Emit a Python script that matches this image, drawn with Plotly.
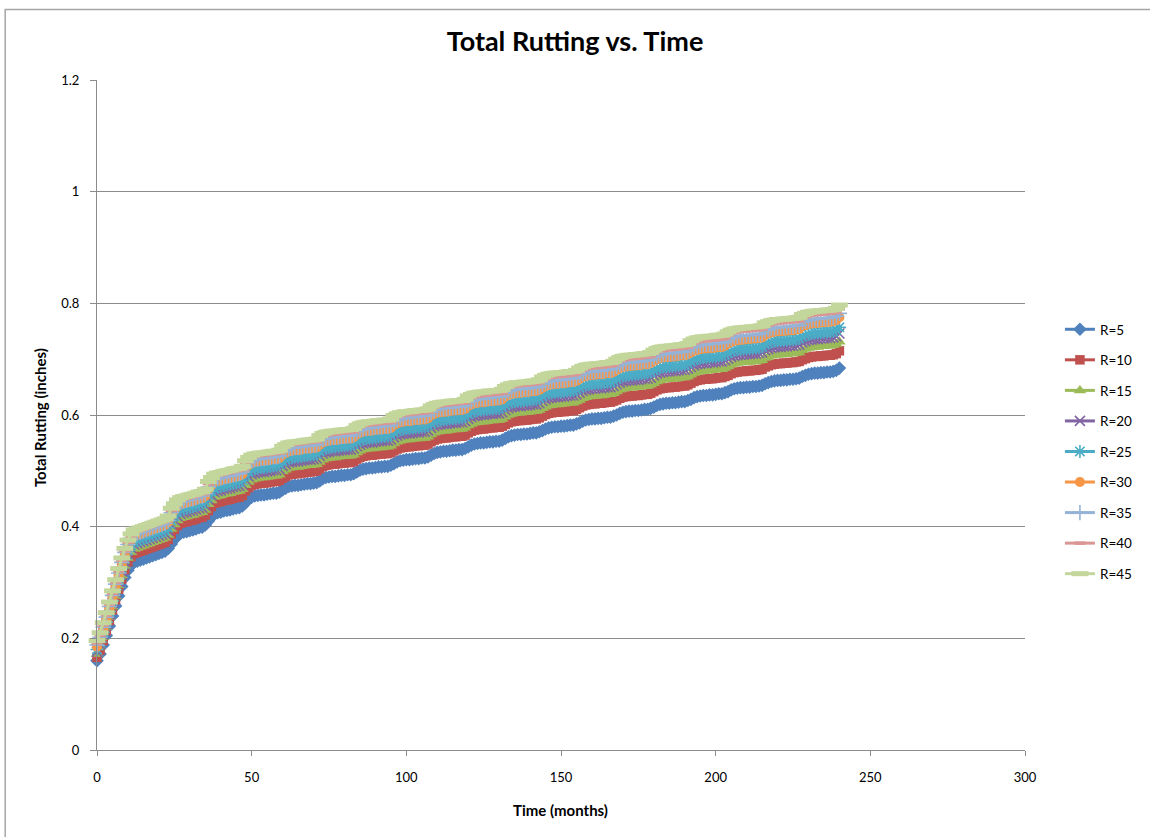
import plotly.graph_objects as go

# Time axis: months since construction
MONTHS = list(range(0, 241))

# Total rutting (inches) for each R value, one row per year (months 12k .. 12k+11)
RUT_R5 = [
    0.160, 0.172, 0.188, 0.205, 0.222, 0.240, 0.258, 0.276, 0.293, 0.309, 0.322, 0.331,
    0.336, 0.338, 0.340, 0.342, 0.344, 0.346, 0.348, 0.350, 0.352, 0.354, 0.356, 0.361,
    0.369, 0.377, 0.384, 0.388, 0.390, 0.391, 0.393, 0.394, 0.396, 0.398, 0.399, 0.403,
    0.410, 0.417, 0.423, 0.425, 0.426, 0.428, 0.429, 0.430, 0.432, 0.433, 0.434, 0.437,
    0.443, 0.449, 0.453, 0.455, 0.456, 0.457, 0.457, 0.458, 0.459, 0.460, 0.460, 0.462,
    0.466, 0.469, 0.472, 0.473, 0.474, 0.474, 0.475, 0.476, 0.477, 0.477, 0.478, 0.479,
    0.482, 0.486, 0.488, 0.489, 0.490, 0.490, 0.491, 0.492, 0.492, 0.493, 0.493, 0.495,
    0.498, 0.501, 0.503, 0.504, 0.505, 0.505, 0.506, 0.507, 0.507, 0.508, 0.508, 0.510,
    0.513, 0.516, 0.518, 0.519, 0.520, 0.520, 0.521, 0.522, 0.522, 0.523, 0.523, 0.525,
    0.528, 0.531, 0.533, 0.534, 0.535, 0.535, 0.536, 0.537, 0.537, 0.538, 0.538, 0.540,
    0.543, 0.546, 0.548, 0.549, 0.550, 0.550, 0.551, 0.552, 0.552, 0.553, 0.553, 0.555,
    0.558, 0.561, 0.563, 0.564, 0.565, 0.565, 0.566, 0.566, 0.567, 0.568, 0.568, 0.570,
    0.572, 0.575, 0.577, 0.578, 0.579, 0.579, 0.580, 0.580, 0.581, 0.582, 0.582, 0.584,
    0.586, 0.589, 0.591, 0.592, 0.593, 0.593, 0.594, 0.594, 0.595, 0.596, 0.596, 0.598,
    0.600, 0.603, 0.605, 0.606, 0.607, 0.607, 0.608, 0.608, 0.609, 0.610, 0.610, 0.612,
    0.614, 0.617, 0.619, 0.620, 0.621, 0.621, 0.622, 0.622, 0.623, 0.624, 0.624, 0.626,
    0.628, 0.631, 0.633, 0.634, 0.635, 0.635, 0.636, 0.636, 0.637, 0.638, 0.638, 0.640,
    0.642, 0.645, 0.647, 0.648, 0.649, 0.649, 0.650, 0.650, 0.651, 0.651, 0.652, 0.653,
    0.656, 0.658, 0.660, 0.661, 0.662, 0.662, 0.663, 0.663, 0.664, 0.664, 0.665, 0.666,
    0.669, 0.671, 0.673, 0.674, 0.675, 0.675, 0.676, 0.676, 0.677, 0.677, 0.678, 0.680,
    0.684,
]

RUT_R10 = [
    0.166, 0.179, 0.196, 0.214, 0.232, 0.251, 0.269, 0.288, 0.306, 0.323, 0.337, 0.346,
    0.352, 0.354, 0.356, 0.358, 0.360, 0.362, 0.364, 0.366, 0.368, 0.370, 0.372, 0.377,
    0.387, 0.395, 0.402, 0.406, 0.408, 0.409, 0.411, 0.412, 0.414, 0.416, 0.417, 0.421,
    0.429, 0.436, 0.442, 0.444, 0.445, 0.447, 0.448, 0.449, 0.451, 0.452, 0.453, 0.456,
    0.464, 0.470, 0.474, 0.476, 0.477, 0.478, 0.478, 0.479, 0.480, 0.481, 0.481, 0.483,
    0.487, 0.490, 0.493, 0.494, 0.495, 0.495, 0.496, 0.497, 0.498, 0.498, 0.499, 0.500,
    0.504, 0.508, 0.510, 0.511, 0.512, 0.512, 0.513, 0.514, 0.514, 0.515, 0.515, 0.517,
    0.521, 0.524, 0.526, 0.527, 0.528, 0.528, 0.529, 0.530, 0.530, 0.531, 0.531, 0.533,
    0.536, 0.539, 0.541, 0.542, 0.543, 0.543, 0.544, 0.545, 0.545, 0.546, 0.546, 0.548,
    0.552, 0.555, 0.557, 0.558, 0.559, 0.559, 0.560, 0.561, 0.561, 0.562, 0.562, 0.564,
    0.568, 0.571, 0.573, 0.574, 0.575, 0.575, 0.576, 0.577, 0.577, 0.578, 0.578, 0.580,
    0.583, 0.586, 0.588, 0.589, 0.590, 0.590, 0.591, 0.591, 0.592, 0.593, 0.593, 0.595,
    0.598, 0.601, 0.603, 0.604, 0.605, 0.605, 0.606, 0.606, 0.607, 0.608, 0.608, 0.610,
    0.613, 0.616, 0.618, 0.619, 0.620, 0.620, 0.621, 0.621, 0.622, 0.623, 0.623, 0.625,
    0.627, 0.630, 0.632, 0.633, 0.634, 0.634, 0.635, 0.635, 0.636, 0.637, 0.637, 0.639,
    0.642, 0.645, 0.647, 0.648, 0.649, 0.649, 0.650, 0.650, 0.651, 0.652, 0.652, 0.654,
    0.657, 0.660, 0.662, 0.663, 0.664, 0.664, 0.665, 0.665, 0.666, 0.667, 0.667, 0.669,
    0.671, 0.674, 0.676, 0.677, 0.678, 0.678, 0.679, 0.679, 0.680, 0.680, 0.681, 0.682,
    0.686, 0.688, 0.690, 0.691, 0.692, 0.692, 0.693, 0.693, 0.694, 0.694, 0.695, 0.696,
    0.699, 0.701, 0.703, 0.704, 0.705, 0.705, 0.706, 0.706, 0.707, 0.707, 0.708, 0.710,
    0.715,
]

RUT_R15 = [
    0.172, 0.185, 0.202, 0.220, 0.238, 0.257, 0.276, 0.295, 0.313, 0.330, 0.344, 0.354,
    0.360, 0.362, 0.364, 0.366, 0.368, 0.370, 0.372, 0.374, 0.376, 0.378, 0.380, 0.385,
    0.396, 0.404, 0.411, 0.415, 0.417, 0.418, 0.420, 0.421, 0.423, 0.425, 0.426, 0.430,
    0.440, 0.447, 0.453, 0.455, 0.456, 0.458, 0.459, 0.460, 0.462, 0.463, 0.464, 0.467,
    0.474, 0.480, 0.484, 0.486, 0.487, 0.488, 0.488, 0.489, 0.490, 0.491, 0.491, 0.493,
    0.499, 0.502, 0.505, 0.506, 0.507, 0.507, 0.508, 0.509, 0.510, 0.510, 0.511, 0.512,
    0.516, 0.520, 0.522, 0.523, 0.524, 0.524, 0.525, 0.526, 0.526, 0.527, 0.527, 0.529,
    0.533, 0.536, 0.538, 0.539, 0.540, 0.540, 0.541, 0.542, 0.542, 0.543, 0.543, 0.545,
    0.549, 0.552, 0.554, 0.555, 0.556, 0.556, 0.557, 0.558, 0.558, 0.559, 0.559, 0.561,
    0.565, 0.568, 0.570, 0.571, 0.572, 0.572, 0.573, 0.574, 0.574, 0.575, 0.575, 0.577,
    0.581, 0.584, 0.586, 0.587, 0.588, 0.588, 0.589, 0.590, 0.590, 0.591, 0.591, 0.593,
    0.597, 0.600, 0.602, 0.603, 0.604, 0.604, 0.605, 0.605, 0.606, 0.607, 0.607, 0.609,
    0.612, 0.615, 0.617, 0.618, 0.619, 0.619, 0.620, 0.620, 0.621, 0.622, 0.622, 0.624,
    0.627, 0.630, 0.632, 0.633, 0.634, 0.634, 0.635, 0.635, 0.636, 0.637, 0.637, 0.639,
    0.642, 0.645, 0.647, 0.648, 0.649, 0.649, 0.650, 0.650, 0.651, 0.652, 0.652, 0.654,
    0.657, 0.660, 0.662, 0.663, 0.664, 0.664, 0.665, 0.665, 0.666, 0.667, 0.667, 0.669,
    0.672, 0.675, 0.677, 0.678, 0.679, 0.679, 0.680, 0.680, 0.681, 0.682, 0.682, 0.684,
    0.687, 0.690, 0.692, 0.693, 0.694, 0.694, 0.695, 0.695, 0.696, 0.696, 0.697, 0.698,
    0.702, 0.704, 0.706, 0.707, 0.708, 0.708, 0.709, 0.709, 0.710, 0.710, 0.711, 0.712,
    0.716, 0.718, 0.720, 0.721, 0.722, 0.722, 0.723, 0.723, 0.724, 0.724, 0.725, 0.727,
    0.731,
]

RUT_R20 = [
    0.176, 0.189, 0.207, 0.225, 0.243, 0.263, 0.282, 0.301, 0.320, 0.337, 0.351, 0.362,
    0.368, 0.370, 0.372, 0.374, 0.376, 0.378, 0.380, 0.382, 0.384, 0.386, 0.388, 0.393,
    0.404, 0.412, 0.419, 0.423, 0.425, 0.426, 0.428, 0.429, 0.431, 0.433, 0.434, 0.438,
    0.449, 0.456, 0.462, 0.464, 0.465, 0.467, 0.468, 0.469, 0.471, 0.472, 0.473, 0.476,
    0.484, 0.490, 0.494, 0.496, 0.497, 0.498, 0.498, 0.499, 0.500, 0.501, 0.501, 0.503,
    0.509, 0.512, 0.515, 0.516, 0.517, 0.517, 0.518, 0.519, 0.520, 0.520, 0.521, 0.522,
    0.527, 0.531, 0.533, 0.534, 0.535, 0.535, 0.536, 0.537, 0.537, 0.538, 0.538, 0.540,
    0.544, 0.547, 0.549, 0.550, 0.551, 0.551, 0.552, 0.553, 0.553, 0.554, 0.554, 0.556,
    0.560, 0.563, 0.565, 0.566, 0.567, 0.567, 0.568, 0.569, 0.569, 0.570, 0.570, 0.572,
    0.577, 0.580, 0.582, 0.583, 0.584, 0.584, 0.585, 0.586, 0.586, 0.587, 0.587, 0.589,
    0.593, 0.596, 0.598, 0.599, 0.600, 0.600, 0.601, 0.602, 0.602, 0.603, 0.603, 0.605,
    0.609, 0.612, 0.614, 0.615, 0.616, 0.616, 0.617, 0.617, 0.618, 0.619, 0.619, 0.621,
    0.625, 0.628, 0.630, 0.631, 0.632, 0.632, 0.633, 0.633, 0.634, 0.635, 0.635, 0.637,
    0.640, 0.643, 0.645, 0.646, 0.647, 0.647, 0.648, 0.648, 0.649, 0.650, 0.650, 0.652,
    0.655, 0.658, 0.660, 0.661, 0.662, 0.662, 0.663, 0.663, 0.664, 0.665, 0.665, 0.667,
    0.671, 0.674, 0.676, 0.677, 0.678, 0.678, 0.679, 0.679, 0.680, 0.681, 0.681, 0.683,
    0.686, 0.689, 0.691, 0.692, 0.693, 0.693, 0.694, 0.694, 0.695, 0.696, 0.696, 0.698,
    0.701, 0.704, 0.706, 0.707, 0.708, 0.708, 0.709, 0.709, 0.710, 0.710, 0.711, 0.712,
    0.716, 0.718, 0.720, 0.721, 0.722, 0.722, 0.723, 0.723, 0.724, 0.724, 0.725, 0.726,
    0.730, 0.732, 0.734, 0.735, 0.736, 0.736, 0.737, 0.737, 0.738, 0.738, 0.739, 0.741,
    0.746,
]

RUT_R25 = [
    0.180, 0.193, 0.211, 0.229, 0.248, 0.267, 0.287, 0.306, 0.325, 0.342, 0.357, 0.367,
    0.373, 0.375, 0.377, 0.379, 0.381, 0.383, 0.385, 0.387, 0.389, 0.391, 0.393, 0.398,
    0.411, 0.419, 0.426, 0.430, 0.432, 0.433, 0.435, 0.436, 0.438, 0.440, 0.441, 0.445,
    0.456, 0.463, 0.469, 0.471, 0.472, 0.474, 0.475, 0.476, 0.478, 0.479, 0.480, 0.483,
    0.492, 0.498, 0.502, 0.504, 0.505, 0.506, 0.506, 0.507, 0.508, 0.509, 0.509, 0.511,
    0.517, 0.520, 0.523, 0.524, 0.525, 0.525, 0.526, 0.527, 0.528, 0.528, 0.529, 0.530,
    0.535, 0.539, 0.541, 0.542, 0.543, 0.543, 0.544, 0.545, 0.545, 0.546, 0.546, 0.548,
    0.552, 0.555, 0.557, 0.558, 0.559, 0.559, 0.560, 0.561, 0.561, 0.562, 0.562, 0.564,
    0.569, 0.572, 0.574, 0.575, 0.576, 0.576, 0.577, 0.578, 0.578, 0.579, 0.579, 0.581,
    0.585, 0.588, 0.590, 0.591, 0.592, 0.592, 0.593, 0.594, 0.594, 0.595, 0.595, 0.597,
    0.602, 0.605, 0.607, 0.608, 0.609, 0.609, 0.610, 0.611, 0.611, 0.612, 0.612, 0.614,
    0.618, 0.621, 0.623, 0.624, 0.625, 0.625, 0.626, 0.626, 0.627, 0.628, 0.628, 0.630,
    0.634, 0.637, 0.639, 0.640, 0.641, 0.641, 0.642, 0.642, 0.643, 0.644, 0.644, 0.646,
    0.649, 0.652, 0.654, 0.655, 0.656, 0.656, 0.657, 0.657, 0.658, 0.659, 0.659, 0.661,
    0.665, 0.668, 0.670, 0.671, 0.672, 0.672, 0.673, 0.673, 0.674, 0.675, 0.675, 0.677,
    0.680, 0.683, 0.685, 0.686, 0.687, 0.687, 0.688, 0.688, 0.689, 0.690, 0.690, 0.692,
    0.696, 0.699, 0.701, 0.702, 0.703, 0.703, 0.704, 0.704, 0.705, 0.706, 0.706, 0.708,
    0.711, 0.714, 0.716, 0.717, 0.718, 0.718, 0.719, 0.719, 0.720, 0.720, 0.721, 0.722,
    0.727, 0.729, 0.731, 0.732, 0.733, 0.733, 0.734, 0.734, 0.735, 0.735, 0.736, 0.737,
    0.741, 0.743, 0.745, 0.746, 0.747, 0.747, 0.748, 0.748, 0.749, 0.749, 0.750, 0.752,
    0.757,
]

RUT_R30 = [
    0.185, 0.199, 0.217, 0.235, 0.254, 0.274, 0.294, 0.314, 0.333, 0.351, 0.366, 0.376,
    0.383, 0.385, 0.387, 0.389, 0.391, 0.393, 0.395, 0.397, 0.399, 0.401, 0.403, 0.408,
    0.421, 0.429, 0.436, 0.440, 0.442, 0.443, 0.445, 0.446, 0.448, 0.450, 0.451, 0.455,
    0.467, 0.474, 0.480, 0.482, 0.483, 0.485, 0.486, 0.487, 0.489, 0.490, 0.491, 0.494,
    0.504, 0.510, 0.514, 0.516, 0.517, 0.518, 0.518, 0.519, 0.520, 0.521, 0.521, 0.523,
    0.529, 0.532, 0.535, 0.536, 0.537, 0.537, 0.538, 0.539, 0.540, 0.540, 0.541, 0.542,
    0.547, 0.551, 0.553, 0.554, 0.555, 0.555, 0.556, 0.557, 0.557, 0.558, 0.558, 0.560,
    0.565, 0.568, 0.570, 0.571, 0.572, 0.572, 0.573, 0.574, 0.574, 0.575, 0.575, 0.577,
    0.582, 0.585, 0.587, 0.588, 0.589, 0.589, 0.590, 0.591, 0.591, 0.592, 0.592, 0.594,
    0.599, 0.602, 0.604, 0.605, 0.606, 0.606, 0.607, 0.608, 0.608, 0.609, 0.609, 0.611,
    0.616, 0.619, 0.621, 0.622, 0.623, 0.623, 0.624, 0.625, 0.625, 0.626, 0.626, 0.628,
    0.633, 0.636, 0.638, 0.639, 0.640, 0.640, 0.641, 0.641, 0.642, 0.643, 0.643, 0.645,
    0.649, 0.652, 0.654, 0.655, 0.656, 0.656, 0.657, 0.657, 0.658, 0.659, 0.659, 0.661,
    0.665, 0.668, 0.670, 0.671, 0.672, 0.672, 0.673, 0.673, 0.674, 0.675, 0.675, 0.677,
    0.681, 0.684, 0.686, 0.687, 0.688, 0.688, 0.689, 0.689, 0.690, 0.691, 0.691, 0.693,
    0.697, 0.700, 0.702, 0.703, 0.704, 0.704, 0.705, 0.705, 0.706, 0.707, 0.707, 0.709,
    0.712, 0.715, 0.717, 0.718, 0.719, 0.719, 0.720, 0.720, 0.721, 0.722, 0.722, 0.724,
    0.728, 0.731, 0.733, 0.734, 0.735, 0.735, 0.736, 0.736, 0.737, 0.737, 0.738, 0.739,
    0.744, 0.746, 0.748, 0.749, 0.750, 0.750, 0.751, 0.751, 0.752, 0.752, 0.753, 0.754,
    0.759, 0.761, 0.763, 0.764, 0.765, 0.765, 0.766, 0.766, 0.767, 0.767, 0.768, 0.770,
    0.775,
]

RUT_R35 = [
    0.188, 0.202, 0.220, 0.238, 0.257, 0.277, 0.297, 0.317, 0.336, 0.354, 0.368, 0.379,
    0.386, 0.388, 0.390, 0.392, 0.394, 0.396, 0.398, 0.400, 0.402, 0.404, 0.406, 0.411,
    0.425, 0.433, 0.440, 0.444, 0.446, 0.447, 0.449, 0.450, 0.452, 0.454, 0.455, 0.459,
    0.471, 0.478, 0.484, 0.486, 0.487, 0.489, 0.490, 0.491, 0.493, 0.494, 0.495, 0.498,
    0.508, 0.514, 0.518, 0.520, 0.521, 0.522, 0.522, 0.523, 0.524, 0.525, 0.525, 0.527,
    0.534, 0.537, 0.540, 0.541, 0.542, 0.542, 0.543, 0.544, 0.545, 0.545, 0.546, 0.547,
    0.552, 0.556, 0.558, 0.559, 0.560, 0.560, 0.561, 0.562, 0.562, 0.563, 0.563, 0.565,
    0.570, 0.573, 0.575, 0.576, 0.577, 0.577, 0.578, 0.579, 0.579, 0.580, 0.580, 0.582,
    0.588, 0.591, 0.593, 0.594, 0.595, 0.595, 0.596, 0.597, 0.597, 0.598, 0.598, 0.600,
    0.605, 0.608, 0.610, 0.611, 0.612, 0.612, 0.613, 0.614, 0.614, 0.615, 0.615, 0.617,
    0.622, 0.625, 0.627, 0.628, 0.629, 0.629, 0.630, 0.631, 0.631, 0.632, 0.632, 0.634,
    0.639, 0.642, 0.644, 0.645, 0.646, 0.646, 0.647, 0.647, 0.648, 0.649, 0.649, 0.651,
    0.655, 0.658, 0.660, 0.661, 0.662, 0.662, 0.663, 0.663, 0.664, 0.665, 0.665, 0.667,
    0.671, 0.674, 0.676, 0.677, 0.678, 0.678, 0.679, 0.679, 0.680, 0.681, 0.681, 0.683,
    0.687, 0.690, 0.692, 0.693, 0.694, 0.694, 0.695, 0.695, 0.696, 0.697, 0.697, 0.699,
    0.703, 0.706, 0.708, 0.709, 0.710, 0.710, 0.711, 0.711, 0.712, 0.713, 0.713, 0.715,
    0.719, 0.722, 0.724, 0.725, 0.726, 0.726, 0.727, 0.727, 0.728, 0.729, 0.729, 0.731,
    0.735, 0.738, 0.740, 0.741, 0.742, 0.742, 0.743, 0.743, 0.744, 0.744, 0.745, 0.746,
    0.751, 0.753, 0.755, 0.756, 0.757, 0.757, 0.758, 0.758, 0.759, 0.759, 0.760, 0.761,
    0.766, 0.768, 0.770, 0.771, 0.772, 0.772, 0.773, 0.773, 0.774, 0.774, 0.775, 0.777,
    0.782,
]

RUT_R40 = [
    0.192, 0.206, 0.224, 0.242, 0.261, 0.281, 0.301, 0.321, 0.340, 0.357, 0.372, 0.383,
    0.390, 0.392, 0.394, 0.396, 0.398, 0.400, 0.402, 0.404, 0.406, 0.408, 0.410, 0.415,
    0.429, 0.437, 0.444, 0.448, 0.450, 0.451, 0.453, 0.454, 0.456, 0.458, 0.459, 0.463,
    0.477, 0.484, 0.490, 0.492, 0.493, 0.495, 0.496, 0.497, 0.499, 0.500, 0.501, 0.504,
    0.514, 0.520, 0.524, 0.526, 0.527, 0.528, 0.528, 0.529, 0.530, 0.531, 0.531, 0.533,
    0.540, 0.543, 0.546, 0.547, 0.548, 0.548, 0.549, 0.550, 0.551, 0.551, 0.552, 0.553,
    0.558, 0.562, 0.564, 0.565, 0.566, 0.566, 0.567, 0.568, 0.568, 0.569, 0.569, 0.571,
    0.576, 0.579, 0.581, 0.582, 0.583, 0.583, 0.584, 0.585, 0.585, 0.586, 0.586, 0.588,
    0.594, 0.597, 0.599, 0.600, 0.601, 0.601, 0.602, 0.603, 0.603, 0.604, 0.604, 0.606,
    0.611, 0.614, 0.616, 0.617, 0.618, 0.618, 0.619, 0.620, 0.620, 0.621, 0.621, 0.623,
    0.628, 0.631, 0.633, 0.634, 0.635, 0.635, 0.636, 0.637, 0.637, 0.638, 0.638, 0.640,
    0.646, 0.649, 0.651, 0.652, 0.653, 0.653, 0.654, 0.654, 0.655, 0.656, 0.656, 0.658,
    0.662, 0.665, 0.667, 0.668, 0.669, 0.669, 0.670, 0.670, 0.671, 0.672, 0.672, 0.674,
    0.678, 0.681, 0.683, 0.684, 0.685, 0.685, 0.686, 0.686, 0.687, 0.688, 0.688, 0.690,
    0.694, 0.697, 0.699, 0.700, 0.701, 0.701, 0.702, 0.702, 0.703, 0.704, 0.704, 0.706,
    0.710, 0.713, 0.715, 0.716, 0.717, 0.717, 0.718, 0.718, 0.719, 0.720, 0.720, 0.722,
    0.726, 0.729, 0.731, 0.732, 0.733, 0.733, 0.734, 0.734, 0.735, 0.736, 0.736, 0.738,
    0.743, 0.746, 0.748, 0.749, 0.750, 0.750, 0.751, 0.751, 0.752, 0.752, 0.753, 0.754,
    0.759, 0.761, 0.763, 0.764, 0.765, 0.765, 0.766, 0.766, 0.767, 0.767, 0.768, 0.769,
    0.774, 0.776, 0.778, 0.779, 0.780, 0.780, 0.781, 0.781, 0.782, 0.782, 0.783, 0.785,
    0.790,
]

RUT_R45 = [
    0.196, 0.210, 0.228, 0.246, 0.265, 0.285, 0.305, 0.325, 0.344, 0.361, 0.376, 0.387,
    0.394, 0.396, 0.398, 0.400, 0.402, 0.404, 0.406, 0.408, 0.410, 0.412, 0.414, 0.419,
    0.433, 0.441, 0.448, 0.452, 0.454, 0.455, 0.457, 0.458, 0.460, 0.462, 0.463, 0.467,
    0.481, 0.488, 0.494, 0.496, 0.497, 0.499, 0.500, 0.501, 0.503, 0.504, 0.505, 0.508,
    0.518, 0.524, 0.528, 0.530, 0.531, 0.532, 0.532, 0.533, 0.534, 0.535, 0.535, 0.537,
    0.544, 0.547, 0.550, 0.551, 0.552, 0.552, 0.553, 0.554, 0.555, 0.555, 0.556, 0.557,
    0.563, 0.567, 0.569, 0.570, 0.571, 0.571, 0.572, 0.573, 0.573, 0.574, 0.574, 0.576,
    0.581, 0.584, 0.586, 0.587, 0.588, 0.588, 0.589, 0.590, 0.590, 0.591, 0.591, 0.593,
    0.599, 0.602, 0.604, 0.605, 0.606, 0.606, 0.607, 0.608, 0.608, 0.609, 0.609, 0.611,
    0.616, 0.619, 0.621, 0.622, 0.623, 0.623, 0.624, 0.625, 0.625, 0.626, 0.626, 0.628,
    0.634, 0.637, 0.639, 0.640, 0.641, 0.641, 0.642, 0.643, 0.643, 0.644, 0.644, 0.646,
    0.651, 0.654, 0.656, 0.657, 0.658, 0.658, 0.659, 0.659, 0.660, 0.661, 0.661, 0.663,
    0.668, 0.671, 0.673, 0.674, 0.675, 0.675, 0.676, 0.676, 0.677, 0.678, 0.678, 0.680,
    0.684, 0.687, 0.689, 0.690, 0.691, 0.691, 0.692, 0.692, 0.693, 0.694, 0.694, 0.696,
    0.700, 0.703, 0.705, 0.706, 0.707, 0.707, 0.708, 0.708, 0.709, 0.710, 0.710, 0.712,
    0.716, 0.719, 0.721, 0.722, 0.723, 0.723, 0.724, 0.724, 0.725, 0.726, 0.726, 0.728,
    0.733, 0.736, 0.738, 0.739, 0.740, 0.740, 0.741, 0.741, 0.742, 0.743, 0.743, 0.745,
    0.749, 0.752, 0.754, 0.755, 0.756, 0.756, 0.757, 0.757, 0.758, 0.758, 0.759, 0.760,
    0.765, 0.767, 0.769, 0.770, 0.771, 0.771, 0.772, 0.772, 0.773, 0.773, 0.774, 0.775,
    0.780, 0.782, 0.784, 0.785, 0.786, 0.786, 0.787, 0.787, 0.788, 0.788, 0.789, 0.791,
    0.797,
]

SERIES_NAMES = ["R=5", "R=10", "R=15", "R=20", "R=25", "R=30", "R=35", "R=40", "R=45"]
SERIES_VALUES = [RUT_R5, RUT_R10, RUT_R15, RUT_R20, RUT_R25,
                 RUT_R30, RUT_R35, RUT_R40, RUT_R45]

Y_TICKS = [0, 0.2, 0.4, 0.6, 0.8, 1, 1.2]
X_TICKS = [0, 50, 100, 150, 200, 250, 300]

for vals in SERIES_VALUES:
    assert len(vals) == len(MONTHS)

# Office-style palette and marker set, in series order
COLORS = ["#4F81BD", "#C0504D", "#9BBB59", "#8064A2", "#4BACC6",
          "#F79646", "#95B3D7", "#D99694", "#C3D69B"]
MARKERS = [
    dict(symbol="diamond", size=10.5),
    dict(symbol="square", size=9.5),
    dict(symbol="triangle-up", size=11),
    dict(symbol="x-thin-open", size=10, line=dict(width=1.6)),
    dict(symbol="asterisk-open", size=11, line=dict(width=1.6)),
    dict(symbol="circle", size=10),
    dict(symbol="cross-thin-open", size=11, line=dict(width=1.6)),
    dict(symbol="line-ew-open", size=8, line=dict(width=3.5)),
    dict(symbol="line-ew-open", size=12, line=dict(width=5)),
]

FONT = "Lato, 'Open Sans', sans-serif"
AXIS_GRAY = "#8C8C8C"

fig = go.Figure()
for name, vals, color, mk in zip(SERIES_NAMES, SERIES_VALUES, COLORS, MARKERS):
    marker = dict(color=color, **{k: v for k, v in mk.items() if k != "line"})
    marker["line"] = dict(color=color, width=mk.get("line", {}).get("width", 0))
    fig.add_trace(go.Scatter(
        x=MONTHS, y=vals, name=name, legendgroup=name,
        mode="lines+markers",
        line=dict(color=color, width=3),
        marker=marker,
        cliponaxis=False,
    ))

fig.update_layout(
    width=1150, height=837,
    margin=dict(l=97, r=123, t=80, b=87),
    paper_bgcolor="white", plot_bgcolor="white",
    font=dict(family=FONT, size=13, color="#000000"),
    title=dict(text="<b>Total Rutting vs. Time</b>", x=0.5, xanchor="center",
               y=1 - 42 / 837, yanchor="middle",
               font=dict(family=FONT, size=27, color="#000000")),
    showlegend=True,
    legend=dict(x=(1062 - 97) / 930, xanchor="left",
                y=(750 - 314) / 670, yanchor="top",
                font=dict(family=FONT, size=13.5, color="#000000"),
                tracegroupgap=10, itemwidth=30,
                bgcolor="rgba(0,0,0,0)"),
    xaxis=dict(range=[0, 300], tickvals=X_TICKS, showgrid=False, zeroline=False,
               showline=True, linecolor=AXIS_GRAY, linewidth=1,
               ticks="outside", ticklen=5, tickcolor=AXIS_GRAY,
               ticklabelstandoff=10,
               tickfont=dict(family=FONT, size=13, color="#000000")),
    yaxis=dict(range=[0, 1.2], tickvals=Y_TICKS, showgrid=True,
               gridcolor=AXIS_GRAY, gridwidth=1, zeroline=False,
               showline=True, linecolor=AXIS_GRAY, linewidth=1,
               ticks="outside", ticklen=6, tickcolor=AXIS_GRAY,
               ticklabelstandoff=8,
               tickfont=dict(family=FONT, size=13, color="#000000")),
    annotations=[
        dict(text="<b>Time (months)</b>", xref="paper", yref="paper",
             x=(561 - 97) / 930, y=(750 - 810) / 670,
             xanchor="center", yanchor="middle", showarrow=False,
             font=dict(family=FONT, size=15, color="#000000")),
        dict(text="<b>Total Rutting (inches)</b>", xref="paper", yref="paper",
             x=(40 - 97) / 930, y=(750 - 418) / 670, textangle=-90,
             xanchor="center", yanchor="middle", showarrow=False,
             font=dict(family=FONT, size=15, color="#000000")),
    ],
    shapes=[
        # chart-area frame
        dict(type="rect", xref="paper", yref="paper",
             x0=(5 - 97) / 930, x1=(1200 - 97) / 930,
             y0=(750 - 900) / 670, y1=(750 - 9.5) / 670,
             line=dict(color="#A6A6A6", width=1.5), layer="below"),
    ],
)

fig.write_html("out.html")
